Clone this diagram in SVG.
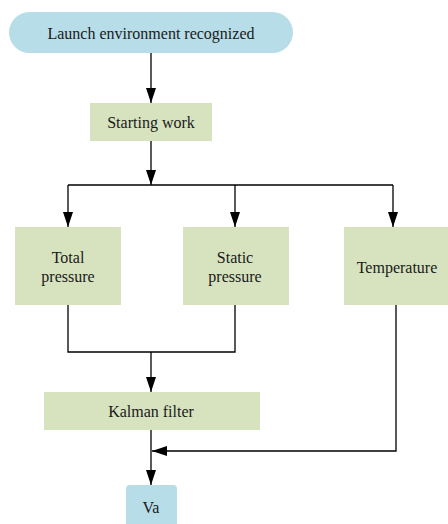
<svg xmlns="http://www.w3.org/2000/svg" width="448" height="524" viewBox="0 0 448 524" font-family="Liberation Serif, DejaVu Serif, serif">
<style>
.blue{fill:#b7dde8}
.green{fill:#d7e3bf}
.t{font-size:16px;fill:#1a1a1a;text-anchor:middle}
.c{fill:none;stroke:#000;stroke-width:1.3}
</style>
<defs>
<marker id="ah" markerUnits="userSpaceOnUse" markerWidth="15" markerHeight="10" refX="15" refY="5" orient="auto">
<path d="M0,0 L15,5 L0,10 z" fill="#000"/>
</marker>
</defs>
<rect width="448" height="524" fill="#fff"/>
<g id="connectors">
<path class="c" d="M151,53 V103" marker-end="url(#ah)"/>
<path class="c" d="M151,141 V185" marker-end="url(#ah)"/>
<path class="c" d="M68,185 H393"/>
<path class="c" d="M68,185 V227" marker-end="url(#ah)"/>
<path class="c" d="M235,185 V227" marker-end="url(#ah)"/>
<path class="c" d="M393,185 V227" marker-end="url(#ah)"/>
<path class="c" d="M68,305 V352 H235 V305"/>
<path class="c" d="M151,352 V392" marker-end="url(#ah)"/>
<path class="c" d="M151,430 V485" marker-end="url(#ah)"/>
<path class="c" d="M396,305 V451 H152" marker-end="url(#ah)"/>
</g>
<g id="launch">
<rect class="blue" x="9" y="12" width="284" height="41" rx="20.5"/>
<text class="t" x="151" y="38.5">Launch environment recognized</text>
</g>
<g id="starting">
<rect class="green" x="90" y="103" width="122" height="38"/>
<text class="t" x="151" y="127.5">Starting work</text>
</g>
<g id="total">
<rect class="green" x="15" y="227" width="106" height="78"/>
<text class="t" x="68" y="262.5">Total</text>
<text class="t" x="68" y="282">pressure</text>
</g>
<g id="static">
<rect class="green" x="183" y="227" width="106" height="78"/>
<text class="t" x="235" y="262.5">Static</text>
<text class="t" x="235" y="282">pressure</text>
</g>
<g id="temperature">
<rect class="green" x="344" y="227" width="104" height="78"/>
<text class="t" x="397" y="272.5">Temperature</text>
</g>
<g id="kalman">
<rect class="green" x="44" y="392" width="216" height="38"/>
<text class="t" x="151" y="416.5">Kalman filter</text>
</g>
<g id="va">
<rect class="blue" x="126" y="485" width="51" height="45" rx="4"/>
<text class="t" x="151" y="512.5">Va</text>
</g>
</svg>
